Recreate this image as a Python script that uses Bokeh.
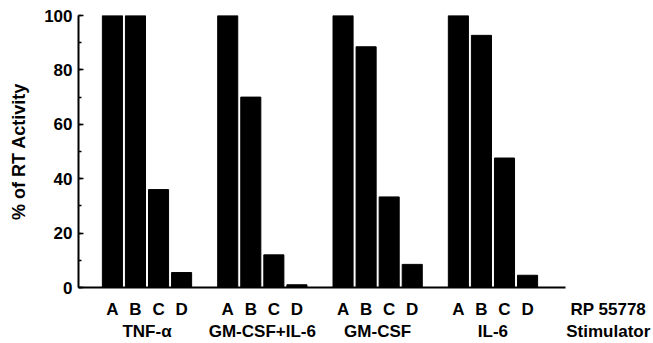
from bokeh.plotting import figure
from bokeh.models import Range1d, FixedTicker, SingleIntervalTicker, LinearAxis, ColumnDataSource
from bokeh.embed import file_html
from bokeh.resources import INLINE

# ---- data ----
groups = ["TNF-α", "GM-CSF+IL-6", "GM-CSF", "IL-6"]
treatments = ["A", "B", "C", "D"]
tnf_alpha = [100, 100, 36, 5.5]
gmcsf_il6 = [100, 70, 12, 1]
gmcsf = [100, 88.5, 33.3, 8.5]
il6 = [100, 92.7, 47.6, 4.5]
y_label = "% of RT Activity"
row_label_treatment = "RP 55778"
row_label_group = "Stimulator"

series = [tnf_alpha, gmcsf_il6, gmcsf, il6]

# ---- layout ----
GROUP_STEP = 5
X_START = -1.47
AXIS_END = 19.65          # where the drawn x axis line stops
ROW_LABEL_POS = AXIS_END + 1.85
X_END = 23.46
FONT = "Liberation Sans"
STYLE = "bold"

xs, tops, labels = [], [], {}
for g, vals in enumerate(series):
    for i, v in enumerate(vals):
        x = g * GROUP_STEP + i
        xs.append(x)
        tops.append(v)
        labels[x] = treatments[i]
labels[ROW_LABEL_POS] = row_label_treatment
group_centers = [g * GROUP_STEP + (len(treatments) - 1) / 2 for g in range(len(groups))]
group_labels = {c: name for c, name in zip(group_centers, groups)}
group_labels[ROW_LABEL_POS] = row_label_group

src = ColumnDataSource(dict(x=xs, top=tops))

p = figure(width=653, height=343, x_range=Range1d(X_START, X_END), y_range=Range1d(0, 100),
           output_backend="svg", toolbar_location=None, x_axis_type=None,
           min_border_left=78, min_border_right=0, min_border_top=15, min_border_bottom=54)
p.outline_line_color = None
p.grid.visible = False
p.background_fill_color = "white"

p.vbar(x="x", top="top", bottom=0, width=0.87, source=src, fill_color="black", line_color="black")

# axis line only (bounded)
la = LinearAxis(ticker=FixedTicker(ticks=[], minor_ticks=[]), bounds=(X_START, AXIS_END),
                axis_line_width=2, axis_line_color="black",
                major_tick_line_color=None, minor_tick_line_color=None,
                major_tick_in=0, major_tick_out=0, minor_tick_in=0, minor_tick_out=0,
                major_label_text_font_size="0px", major_label_standoff=0)
p.add_layout(la, "below")

def label_axis(ticks, overrides, standoff):
    return LinearAxis(ticker=FixedTicker(ticks=ticks, minor_ticks=[]),
                      major_label_overrides=overrides,
                      axis_line_color=None, major_tick_line_color=None, minor_tick_line_color=None,
                      major_tick_in=0, major_tick_out=0, minor_tick_in=0, minor_tick_out=0,
                      major_label_standoff=standoff,
                      major_label_text_font=FONT, major_label_text_font_size="17px",
                      major_label_text_font_style=STYLE,
                      major_label_text_color="black")

p.add_layout(label_axis(xs + [ROW_LABEL_POS], labels, 12), "below")
p.add_layout(label_axis(group_centers + [ROW_LABEL_POS], group_labels, 0), "below")

# y axis
ya = p.yaxis[0]
ya.ticker = SingleIntervalTicker(interval=20, num_minor_ticks=2)
ya.axis_line_width = 2
ya.axis_line_color = "black"
ya.major_tick_in = 5
ya.major_tick_out = 0
ya.minor_tick_in = 3
ya.minor_tick_out = 0
ya.major_tick_line_width = 1.5
ya.minor_tick_line_width = 1.5
ya.major_tick_line_color = "black"
ya.minor_tick_line_color = "black"
ya.major_label_standoff = 6
ya.major_label_text_font = FONT
ya.major_label_text_font_size = "17px"
ya.major_label_text_font_style = STYLE
ya.major_label_text_color = "black"
ya.axis_label = y_label
ya.axis_label_text_font = FONT
ya.axis_label_text_font_size = "18px"
ya.axis_label_text_font_style = STYLE
ya.axis_label_text_color = "black"
ya.axis_label_standoff = 12

open("out.html", "w").write(file_html(p, INLINE))
